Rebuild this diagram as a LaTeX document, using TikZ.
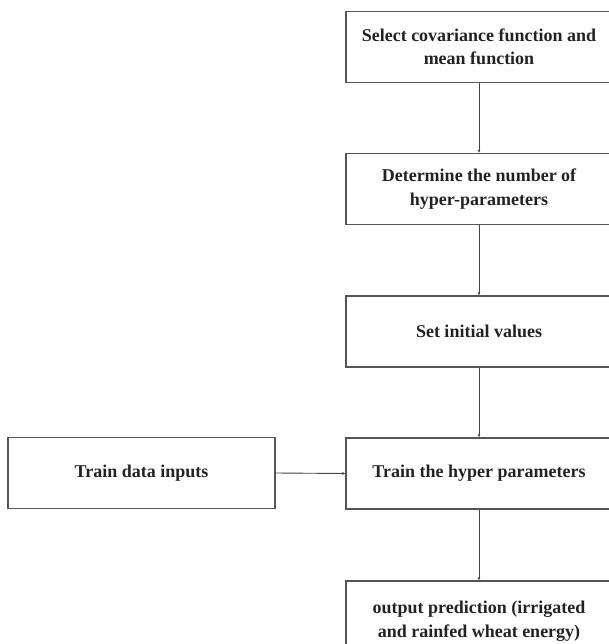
\documentclass[tikz,border=0pt]{standalone}
\usepackage{fontspec}
\setmainfont{Liberation Serif}
\usetikzlibrary{arrows.meta}
\definecolor{boxline}{HTML}{555555}
\definecolor{txt}{HTML}{222222}
\tikzset{
  stepbox/.style={draw=boxline, line width=1.1pt, minimum width=266pt, minimum height=71pt, inner sep=0pt, align=center, font=\bfseries\fontsize{18}{23.5}\selectfont, text=txt},
  conn/.style={draw=boxline!80!black, line width=0.9pt, -{Latex[length=3pt,width=3pt]}}
}
\begin{document}
\begin{tikzpicture}[x=1pt,y=-1pt]
\useasboundingbox (0,0) rectangle (609,644);
\node[stepbox] (b1) at (479,47) {Select covariance function and\\mean function};
\node[stepbox] (b2) at (479,189) {Determine the number of\\hyper-parameters};
\node[stepbox] (b3) at (479,331.5) {Set initial values};
\node[stepbox] (b4) at (479,473.5) {Train the hyper parameters};
\node[stepbox, minimum height=80pt] (b5) at (479,621) {output prediction (irrigated\\and rainfed wheat energy)};
\node[stepbox, minimum width=267pt] (a) at (141.5,473) {Train data inputs};
\draw[conn] (b1) -- (b2);
\draw[conn] (b2) -- (b3);
\draw[conn] (b3) -- (b4);
\draw[conn] (b4.south) -- (b4.south |- b5.north);
\draw[conn] (a.east) -- (b4.west);
\end{tikzpicture}
\end{document}
